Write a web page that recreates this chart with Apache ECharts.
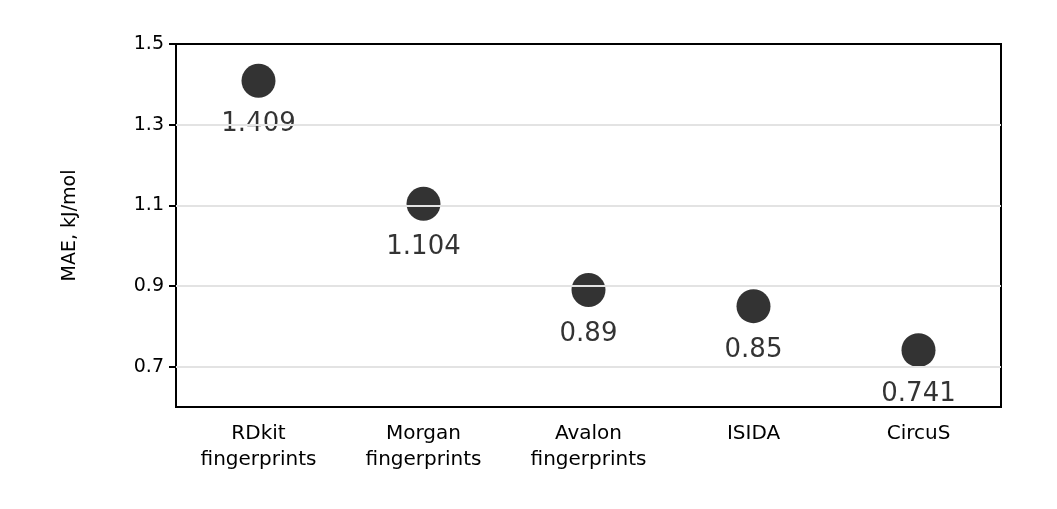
<!DOCTYPE html>
<html><head><meta charset="utf-8">
<script src="https://cdn.jsdelivr.net/npm/echarts@6/dist/echarts.min.js"></script>
<style>html,body{margin:0;background:#fff}#c{width:1057px;height:509px}</style>
</head><body><div id="c"></div>
<script>
const categories = ['RDkit\nfingerprints','Morgan\nfingerprints','Avalon\nfingerprints','ISIDA','CircuS'];
const values = [1.409, 1.104, 0.89, 0.85, 0.741];
const yTicks = [0.7, 0.9, 1.1, 1.3, 1.5];
const gridVals = [0.7, 0.9, 1.1, 1.3];
const font = 'DejaVu Sans';
const chart = echarts.init(document.getElementById('c'));
chart.setOption({
  animation:false,
  grid:{left:176,right:56,top:44,bottom:102,show:true,borderColor:'#000',borderWidth:2},
  xAxis:{type:'category',data:categories,boundaryGap:true,
    axisLine:{lineStyle:{color:'#000',width:2}},
    axisTick:{alignWithLabel:true,length:7,lineStyle:{color:'#000',width:2}},
    axisLabel:{color:'#000',fontFamily:font,fontSize:20,margin:14,lineHeight:26}},
  yAxis:{type:'value',min:0.6,max:1.5,
    axisLine:{show:true,lineStyle:{color:'#000',width:2}},
    axisTick:{show:true,customValues:yTicks,length:7,lineStyle:{color:'#000',width:2}},
    axisLabel:{customValues:yTicks,color:'#000',fontFamily:font,fontSize:19,margin:12,formatter:v=>v.toFixed(1)},
    splitLine:{show:false},
    name:'MAE, kJ/mol',nameLocation:'middle',nameGap:96,
    nameTextStyle:{color:'#000',fontFamily:font,fontSize:19}},
  series:[{type:'scatter',data:values,symbolSize:34,itemStyle:{color:'#000'},
    label:{show:true,position:'bottom',distance:14,color:'#000',fontFamily:font,fontSize:26,formatter:p=>String(p.value)},
    markLine:{silent:true,symbol:'none',label:{show:false},
      lineStyle:{color:'#e3e3e3',width:2,type:'solid'},
      data:gridVals.map(v=>({yAxis:v}))},
    z:3}]
});
</script></body></html>
